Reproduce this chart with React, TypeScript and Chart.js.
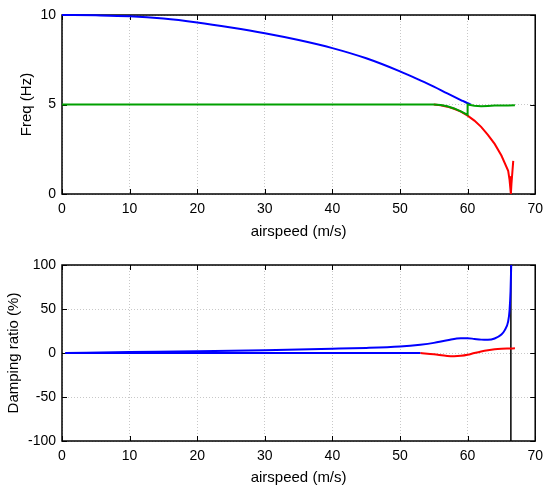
import React, { useEffect, useRef } from "react";
import { Chart, registerables } from "chart.js";

Chart.register(...registerables);

// ---- Top plot: frequency (Hz) vs airspeed (m/s)
const topBlueX = [0, 5, 10, 15, 20, 25, 30, 35, 40, 45, 50, 53, 55, 57, 59, 60, 60.5];
const topBlueY = [10, 9.98, 9.93, 9.8, 9.58, 9.3, 8.98, 8.6, 8.15, 7.58, 6.85, 6.35, 6.0, 5.62, 5.25, 5.07, 5.0];

const topGreenX = [0, 55, 56, 57, 58, 59, 60, 60, 61, 62, 63, 64, 65, 66, 67];
const topGreenY = [5, 5, 4.97, 4.9, 4.78, 4.62, 4.42, 5.0, 4.93, 4.9, 4.92, 4.94, 4.95, 4.95, 4.96];

const topRedX = [55, 56, 57, 58, 59, 60, 61, 62, 63, 64, 65, 66, 66.2, 66.4, 66.55, 66.45, 66.75];
const topRedY = [5, 4.96, 4.88, 4.76, 4.6, 4.38, 4.1, 3.75, 3.3, 2.8, 2.15, 1.3, 0.8, 0, 1.0, 0.4, 1.85];

const topXTicks = [0, 10, 20, 30, 40, 50, 60, 70];
const topYTicks = [0, 5, 10];

// ---- Bottom plot: damping ratio (%) vs airspeed (m/s)
const botBlueX = [0.5, 10, 20, 30, 40, 45, 50, 53, 55, 57, 59, 60, 61, 62, 63, 64, 65, 65.5, 66, 66.2, 66.35, 66.45];
const botBlueY = [0, 1, 2, 3.2, 4.8, 5.8, 7.5, 9.5, 11.5, 14.5, 16.8, 16.8, 16, 15.2, 15, 16.5, 21, 26, 36, 48, 70, 100];

const botFlatX = [0.5, 53];
const botFlatY = [0, 0];

const botRedX = [53, 55, 57, 58, 59, 60, 61, 62, 63, 64, 65, 66, 67];
const botRedY = [0, -1.5, -3.3, -3.6, -3.2, -2, 0, 1.8, 3.2, 4.2, 4.8, 5.1, 5.3];

const botVertX = [66.4, 66.4];
const botVertY = [-100, 100];

const botXTicks = [0, 10, 20, 30, 40, 50, 60, 70];
const botYTicks = [-100, -50, 0, 50, 100];

const FONT = "'Liberation Sans', Arial, Helvetica, sans-serif";

const pts = (xs: number[], ys: number[]) => xs.map((x, i) => ({ x, y: ys[i] }));

const framePlugin = {
  id: "frame",
  beforeDatasetsDraw(chart: any) {
    const { ctx, chartArea: a, scales } = chart;
    ctx.save();
    ctx.strokeStyle = "#000";
    ctx.lineWidth = 1.5;
    ctx.strokeRect(a.left, a.top, a.right - a.left, a.bottom - a.top);
    ctx.lineWidth = 1;
    const L = 5;
    ctx.beginPath();
    scales.x.ticks.forEach((t: any) => {
      const px = Math.round(scales.x.getPixelForValue(t.value)) + 0.5;
      ctx.moveTo(px, a.bottom);
      ctx.lineTo(px, a.bottom - L);
      ctx.moveTo(px, a.top);
      ctx.lineTo(px, a.top + L);
    });
    scales.y.ticks.forEach((t: any) => {
      const py = Math.round(scales.y.getPixelForValue(t.value)) + 0.5;
      ctx.moveTo(a.left, py);
      ctx.lineTo(a.left + L, py);
      ctx.moveTo(a.right, py);
      ctx.lineTo(a.right - L, py);
    });
    ctx.stroke();
    ctx.restore();
  },
};

function makeOptions(
  xTicks: number[],
  yTicks: number[],
  yTitle: string,
  yTitlePad: number,
  topPad: number,
  xHeight: number
) {
  const grid = {
    color: "#c8c8c8",
    lineWidth: 1,
    drawTicks: false,
  };
  return {
    animation: false,
    responsive: false,
    events: [],
    layout: { padding: { top: topPad, right: 14, left: 0, bottom: 0 } },
    plugins: { legend: { display: false }, tooltip: { enabled: false } },
    scales: {
      x: {
        type: "linear",
        min: xTicks[0],
        max: xTicks[xTicks.length - 1],
        afterBuildTicks: (s: any) => {
          s.ticks = xTicks.map((v) => ({ value: v }));
        },
        afterFit: (s: any) => {
          s.height = xHeight;
        },
        grid,
        border: { display: false, dash: [1, 2] },
        ticks: { color: "#000", font: { family: FONT, size: 14 }, padding: 7, maxRotation: 0 },
        title: {
          display: true,
          text: "airspeed (m/s)",
          color: "#000",
          font: { family: FONT, size: 15 },
          padding: { top: 0, bottom: 4 },
        },
      },
      y: {
        type: "linear",
        min: yTicks[0],
        max: yTicks[yTicks.length - 1],
        afterBuildTicks: (s: any) => {
          s.ticks = yTicks.map((v) => ({ value: v }));
        },
        afterFit: (s: any) => {
          s.width = 62;
        },
        grid,
        border: { display: false, dash: [1, 2] },
        ticks: { color: "#000", font: { family: FONT, size: 14 }, padding: 6 },
        title: {
          display: true,
          text: yTitle,
          color: "#000",
          font: { family: FONT, size: 15 },
          padding: { top: yTitlePad, bottom: 0 },
        },
      },
    },
  };
}

const ds = (xs: number[], ys: number[], color: string, width = 2, smooth = false) => ({
  data: pts(xs, ys),
  borderColor: color,
  backgroundColor: color,
  borderWidth: width,
  pointRadius: 0,
  showLine: true,
  tension: 0,
  cubicInterpolationMode: smooth ? "monotone" : "default",
  clip: 4,
});

export default function App() {
  const topRef = useRef<HTMLCanvasElement>(null);
  const botRef = useRef<HTMLCanvasElement>(null);

  useEffect(() => {
    const c1 = new Chart(topRef.current as HTMLCanvasElement, {
      type: "scatter",
      data: {
        datasets: [
          ds(topGreenX, topGreenY, "#00a000"),
          ds(topBlueX, topBlueY, "#0000ff", 2, true),
          ds(topRedX, topRedY, "#ff0000"),
        ],
      },
      options: makeOptions(topXTicks, topYTicks, "Freq (Hz)", 18, 15, 51) as any,
      plugins: [framePlugin],
    } as any);
    const c2 = new Chart(botRef.current as HTMLCanvasElement, {
      type: "scatter",
      data: {
        datasets: [
          ds(botBlueX, botBlueY, "#0000ff", 2, true),
          ds(botFlatX, botFlatY, "#0000ff"),
          ds(botRedX, botRedY, "#ff0000", 2, true),
          ds(botVertX, botVertY, "#000000", 1.5),
        ],
      },
      options: makeOptions(botXTicks, botYTicks, "Damping ratio (%)", 5, 20, 50) as any,
      plugins: [framePlugin],
    } as any);
    return () => {
      c1.destroy();
      c2.destroy();
    };
  }, []);

  return (
    <div style={{ position: "absolute", left: 0, top: 0, width: 550, height: 491, background: "#fff" }}>
      <canvas
        ref={topRef}
        width={550}
        height={245}
        style={{ position: "absolute", left: 0, top: 0, width: 550, height: 245 }}
      />
      <canvas
        ref={botRef}
        width={550}
        height={246}
        style={{ position: "absolute", left: 0, top: 245, width: 550, height: 246 }}
      />
    </div>
  );
}
